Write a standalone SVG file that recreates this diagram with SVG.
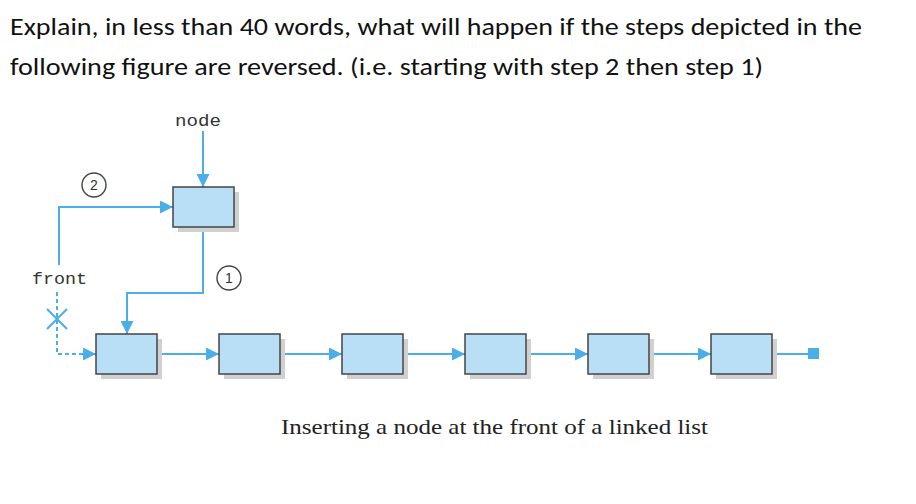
<svg xmlns="http://www.w3.org/2000/svg" width="916" height="504" viewBox="0 0 916 504">
  <style>
    .hdr { font-family: Carlito, "Open Sans", "Liberation Sans", sans-serif; font-size: 24px; fill: #111; }
    .mono { font-family: "Liberation Mono", "DejaVu Sans Mono", monospace; font-size: 17px; fill: #333; }
    .cap { font-family: "Liberation Serif", "DejaVu Serif", serif; font-size: 22px; fill: #222; }
    .num { font-family: "Liberation Sans", Arial, sans-serif; font-size: 14px; fill: #333; text-anchor: middle; }
    .box { fill: #b8dff5; stroke: #444; stroke-width: 1.5; }
    .shadow { fill: #d0d0d0; }
    .ln { fill: none; stroke: #4aaee8; stroke-width: 2; }
    .dash { fill: none; stroke: #4aaee8; stroke-width: 2; stroke-dasharray: 4 3; }
    .step { fill: #fff; stroke: #444; stroke-width: 1.4; }
  </style>
  <defs>
    <marker id="ah" viewBox="0 0 12 12" markerUnits="userSpaceOnUse" markerWidth="13" markerHeight="13" refX="12" refY="6" orient="auto">
      <path d="M0,0 L12,6 L0,12 z" fill="#4aaee8"/>
    </marker>
  </defs>
  <rect width="916" height="504" fill="#fff"/>

  <text class="hdr" x="10" y="35" textLength="852" lengthAdjust="spacingAndGlyphs">Explain, in less than 40 words, what will happen if the steps depicted in the</text>
  <text class="hdr" x="10" y="75" textLength="753" lengthAdjust="spacingAndGlyphs">following figure are reversed. (i.e. starting with step 2 then step 1)</text>

  <g id="connectors">
    <path class="ln" d="M203,131 V187" marker-end="url(#ah)"/>
    <path class="ln" d="M59,265 V207 H173" marker-end="url(#ah)"/>
    <path class="ln" d="M203,227 V293 H127 V334" marker-end="url(#ah)"/>
    <path class="dash" d="M57,292 V354 H96" marker-end="url(#ah)"/>
    <path class="ln" d="M47,309 L67,329 M47,329 L67,309"/>
    <path class="ln" d="M157,354 H219" marker-end="url(#ah)"/>
    <path class="ln" d="M280,354 H342" marker-end="url(#ah)"/>
    <path class="ln" d="M403,354 H465" marker-end="url(#ah)"/>
    <path class="ln" d="M526,354 H588" marker-end="url(#ah)"/>
    <path class="ln" d="M649,354 H711" marker-end="url(#ah)"/>
    <path class="ln" d="M772,354 H808"/>
    <rect x="808" y="348" width="11" height="11" fill="#4aaee8"/>
  </g>

  <g id="label-node"><text class="mono" x="175" y="126" textLength="46" lengthAdjust="spacingAndGlyphs">node</text></g>
  <g id="label-front"><text class="mono" x="32" y="284" textLength="55" lengthAdjust="spacingAndGlyphs">front</text></g>

  <g id="step2"><circle class="step" cx="94" cy="185" r="12"/><text class="num" x="94" y="190">2</text></g>
  <g id="step1"><circle class="step" cx="229" cy="278" r="12"/><text class="num" x="229" y="283">1</text></g>

  <g id="newnode"><rect class="shadow" x="178" y="192" width="61" height="40"/><rect class="box" x="173" y="187" width="61" height="40"/></g>
  <g id="n1"><rect class="shadow" x="101" y="339" width="61" height="40"/><rect class="box" x="96" y="334" width="61" height="40"/></g>
  <g id="n2"><rect class="shadow" x="224" y="339" width="61" height="40"/><rect class="box" x="219" y="334" width="61" height="40"/></g>
  <g id="n3"><rect class="shadow" x="347" y="339" width="61" height="40"/><rect class="box" x="342" y="334" width="61" height="40"/></g>
  <g id="n4"><rect class="shadow" x="470" y="339" width="61" height="40"/><rect class="box" x="465" y="334" width="61" height="40"/></g>
  <g id="n5"><rect class="shadow" x="593" y="339" width="61" height="40"/><rect class="box" x="588" y="334" width="61" height="40"/></g>
  <g id="n6"><rect class="shadow" x="716" y="339" width="61" height="40"/><rect class="box" x="711" y="334" width="61" height="40"/></g>

  <text class="cap" x="281" y="434" textLength="427" lengthAdjust="spacingAndGlyphs">Inserting a node at the front of a linked list</text>
</svg>
